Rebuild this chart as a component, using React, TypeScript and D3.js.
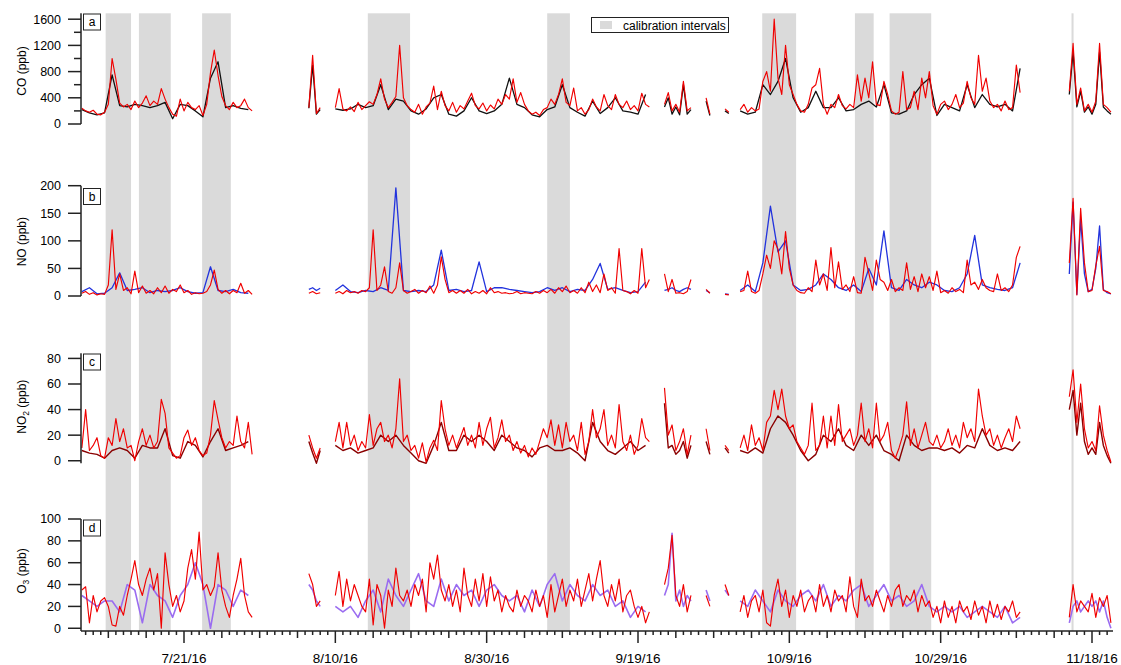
import React from 'react';
import * as d3 from 'd3';

// [start slot, slot step, values]; one slot = 12 h from Jul 7 12:00 UTC
type Seg = [number, number, number[]];

const T0 = Date.UTC(2016, 6, 7, 12);
const SLOT = 12 * 3600 * 1000;

const tickDates = ['2016-07-21', '2016-08-10', '2016-08-30', '2016-09-19', '2016-10-09', '2016-10-29', '2016-11-18'];

const calibration: [string, string][] = [
  ['2016-07-10T15:30Z', '2016-07-14T00:00Z'],
  ['2016-07-15T01:00Z', '2016-07-19T06:00Z'],
  ['2016-07-23T09:30Z', '2016-07-27T04:30Z'],
  ['2016-08-14T07:00Z', '2016-08-19T21:00Z'],
  ['2016-09-07T00:00Z', '2016-09-10T00:00Z'],
  ['2016-10-05T10:00Z', '2016-10-09T21:30Z'],
  ['2016-10-17T16:00Z', '2016-10-20T03:30Z'],
  ['2016-10-22T06:00Z', '2016-10-27T18:00Z'],
  ['2016-11-15T07:00Z', '2016-11-15T13:30Z'],
];

const coRed: Seg[] = [
  [0, 1, [240,200,180,210,150,140,180,300,1000,680,320,260,300,220,350,250,320,430,280,350,300,540,380,250,150,120,380,200,330,250,220,280,130,300,780,1130,740,420,280,220,330,250,280,380,250,200]],
  [60, 1, [250,1050,160,250]],
  [67, 1, [250,540,230,200,260,190,330,220,280,340,300,450,690,380,250,330,420,1200,400,280,220,180,300,150,260,320,580,220,500,280,200,330,180,280,230,350,470,280,230,320,200,290,230,380,300,450,380,690,330,480,300,200,150,180,130,220,250,380,300,450,690,330,280,550,200,250,150,220,380,260,200,450,280,220,450,300,250,350,220,280,200,470,300,260]],
  [154, 1, [300,480,200,300,180,650,200,250]],
  [165, 1, [400,150]],
  [170, 1, [230,180]],
  [174, 1, [220,300,180,250,200,230,650,800,500,1600,700,450,1200,600,450,300,200,180,300,550,600,850,300,150,300,250,450,280,230,300,250,750,350,700,400,950,300,280,650,450,200,150,180,800,220,250,500,220,700,400,800,280,150,300,350,220,300,450,250,320,650,400,300,1050,500,700,350,250,300,200,350,220,250,900,480]],
  [261, 1, [500,1230,300,550,200,300,180,350,1230,300,250,180]],
];
const coBlack: Seg[] = [
  [0, 2, [220,170,140,170,750,280,260,300,280,250,280,330,80,300,280,200,110,700,950,250,280,240,220]],
  [60, 1, [240,900,150,220]],
  [67, 2, [230,210,230,300,250,280,600,220,380,350,200,150,230,400,450,150,120,200,400,200,160,200,300,700,300,250,140,110,220,260,600,250,180,120,350,160,250,400,200,180,150,450]],
  [154, 1, [260,400,150,260,140,600,150,220]],
  [165, 1, [350,130]],
  [170, 1, [200,160]],
  [174, 2, [200,150,180,600,450,650,1000,400,180,250,500,250,250,400,200,220,300,350,260,600,170,150,200,450,600,700,130,300,250,200,600,250,450,300,260,300,200,850]],
  [261, 1, [450,1100,260,500,180,260,150,300,1100,260,200,150]],
];

const noRed: Seg[] = [
  [0, 1, [5,8,3,6,2,4,3,20,120,12,40,10,15,4,45,6,18,5,10,4,15,6,18,5,12,8,20,6,10,3,6,4,5,8,20,47,12,5,10,4,10,6,23,5,10,3]],
  [60, 1, [5,8,4,6]],
  [67, 1, [5,8,4,10,6,8,5,10,8,15,120,10,20,53,8,5,15,60,10,5,8,12,5,10,6,18,5,20,71,30,6,10,5,10,5,12,4,8,5,10,4,15,6,8,5,6,4,5,8,4,6,5,4,8,5,10,6,12,5,15,8,18,6,10,5,15,6,25,8,20,6,40,10,15,5,86,10,8,4,10,5,86,15,30]],
  [154, 1, [40,8,30,5,6,4,8,30]],
  [165, 1, [12,5]],
  [170, 1, [3,2]],
  [174, 1, [8,10,45,8,5,10,40,74,50,100,85,40,117,50,20,10,6,5,15,8,65,20,40,10,88,15,62,12,20,8,35,6,5,70,42,10,65,30,25,10,30,8,15,10,60,12,35,8,40,15,35,10,45,6,10,5,15,8,12,6,65,20,25,12,30,15,10,8,40,10,15,8,20,70,90]],
  [261, 1, [60,177,2,159,60,8,10,55,90,10,8,4]],
];
const noBlue: Seg[] = [
  [0, 2, [8,15,4,5,15,42,10,12,15,6,10,8,10,15,8,5,6,53,10,8,12,6,5]],
  [60, 1, [12,15,10,14]],
  [67, 2, [10,20,8,6,10,8,15,10,196,10,8,10,8,20,83,10,12,8,10,62,8,15,15,12,10,8,6,8,15,10,15,8,12,10,30,59,12,15,10,6,8,25]],
  [154, 1, [10,12,15,10,8,12,15,12]],
  [165, 1, [10,6]],
  [170, 1, [4,3]],
  [174, 2, [10,20,8,60,163,80,100,20,10,12,20,40,30,15,10,20,8,50,20,118,15,10,30,20,15,25,20,10,8,15,40,110,20,15,12,10,15,60]],
  [261, 1, [40,170,3,140,40,8,12,50,127,12,6,4]],
];

const no2Red: Seg[] = [
  [0, 1, [10,40,8,12,18,4,2,18,12,33,15,25,10,12,0,15,25,12,20,10,15,48,37,10,6,2,4,18,24,12,18,8,4,6,20,47,32,18,10,15,12,35,15,10,30,5]],
  [60, 1, [20,10,2,10]],
  [67, 1, [15,30,10,30,12,20,8,15,10,36,12,25,30,15,20,10,25,64,15,20,8,12,2,14,-1,10,16,8,47,25,12,20,10,18,26,12,20,10,30,12,25,34,10,18,32,15,20,8,15,6,12,3,10,5,15,25,18,32,12,28,10,30,15,20,8,30,5,15,40,18,25,40,12,20,10,44,15,8,20,5,12,33,18,15]],
  [154, 1, [57,20,28,8,15,25,5,20]],
  [165, 1, [25,8]],
  [170, 1, [12,8]],
  [174, 1, [10,20,8,28,12,18,8,30,35,55,40,56,35,25,28,15,10,5,12,45,8,12,35,10,35,12,44,15,20,25,12,20,45,15,25,10,45,15,20,30,8,2,10,20,46,12,25,10,20,30,15,12,20,10,15,25,12,20,10,30,18,25,15,56,35,20,25,12,20,10,18,25,15,35,25]],
  [261, 1, [50,71,30,60,25,10,15,8,43,20,8,-1]],
];
const no2Dark: Seg[] = [
  [0, 2, [8,6,5,2,8,10,8,2,12,10,10,25,4,2,15,12,3,15,25,8,10,12,15]],
  [60, 1, [15,6,-2,8]],
  [67, 2, [12,8,10,6,8,10,20,15,20,12,6,0,-2,12,30,8,8,20,15,20,15,8,20,15,10,8,3,10,12,8,8,10,6,0,30,15,8,5,10,15,8,12]],
  [154, 1, [45,10,12,5,8,15,2,12]],
  [165, 1, [15,5]],
  [170, 1, [10,6]],
  [174, 2, [8,6,10,6,25,35,30,20,8,0,5,20,15,25,12,8,20,12,20,8,5,0,20,12,8,10,10,8,10,6,12,10,25,12,8,10,8,15]],
  [261, 1, [40,55,20,45,15,5,10,5,30,12,4,-2]],
];

const o3Red: Seg[] = [
  [0, 1, [35,38,5,30,15,25,28,20,3,2,20,12,30,45,62,40,30,45,55,35,50,0,69,40,20,30,15,25,55,72,45,88,35,40,30,38,69,35,20,10,30,45,64,30,15,10]],
  [60, 1, [50,40,20,25]],
  [67, 1, [30,52,20,45,25,40,30,20,15,45,3,40,30,0,35,20,55,30,25,35,20,40,30,45,15,60,45,67,35,25,40,20,35,15,55,30,20,45,25,50,20,47,25,35,15,30,20,15,35,20,30,25,15,35,20,30,10,40,15,30,45,20,35,25,45,20,35,50,25,45,62,30,20,40,25,45,15,30,35,20,10,20,5,15]],
  [154, 1, [40,55,85,30,20,40,15,30]],
  [165, 1, [30,20]],
  [170, 1, [40,30]],
  [174, 1, [15,30,10,25,30,15,35,5,2,30,45,20,35,10,30,20,35,15,25,30,15,40,20,30,15,35,25,30,15,47,20,10,45,25,30,20,35,25,15,30,20,35,40,20,30,25,35,15,30,20,25,10,20,5,25,10,20,5,25,15,20,8,25,12,20,5,25,10,22,8,20,15,25,10,15]],
  [261, 1, [10,40,15,25,20,15,32,10,28,20,30,5]],
];
const o3Purple: Seg[] = [
  [0, 2, [30,25,20,25,25,15,40,35,5,40,30,25,10,30,40,60,40,0,40,35,20,35,30]],
  [60, 1, [40,35,25,20]],
  [67, 2, [20,15,20,10,25,35,15,45,30,20,35,50,25,20,45,25,40,30,35,20,35,40,30,25,30,15,35,20,40,50,25,40,30,25,40,30,35,20,25,10,20,15]],
  [154, 1, [30,40,87,25,35,20,30,25]],
  [165, 1, [35,25]],
  [170, 1, [35,30]],
  [174, 2, [25,20,35,25,15,35,25,20,30,35,25,40,20,30,25,35,40,20,30,40,25,30,20,25,40,20,15,20,15,20,10,15,20,15,10,20,5,10]],
  [261, 1, [5,20,25,15,20,25,20,25,15,25,10,0]],
];

const FONT = 'Liberation Sans, Arial, Helvetica, sans-serif';
const RED = '#f00000';

const x = d3.scaleUtc()
  .domain([new Date('2016-07-21T00:00Z'), new Date('2016-11-18T00:00Z')])
  .range([184, 1092]);

const AXIS_X = 81;
const PLOT_TOP = 13.3;
const BASE_Y = 631;

const panels = [
  {
    key: 'a', title: ['CO', '', ' (ppb)'], titleY: 71, boxY: 14,
    y: d3.scaleLinear().domain([0, 1690]).range([124, 13.3]),
    ticks: [0, 400, 800, 1200, 1600], minor: [200, 600, 1000, 1400],
    series: [{ data: coBlack, color: '#111', w: 1.3 }, { data: coRed, color: RED, w: 1.15 }],
  },
  {
    key: 'b', title: ['NO', '', ' (ppb)'], titleY: 241.7, boxY: 188.5,
    y: d3.scaleLinear().domain([0, 200]).range([296, 185.7]),
    ticks: [0, 50, 100, 150, 200], minor: [],
    series: [{ data: noBlue, color: '#2233dd', w: 1.3 }, { data: noRed, color: RED, w: 1.15 }],
  },
  {
    key: 'c', title: ['NO', '2', ' (ppb)'], titleY: 406.7, boxY: 354,
    y: d3.scaleLinear().domain([-2, 84]).range([463.3, 353.3]),
    ticks: [0, 20, 40, 60, 80], minor: [],
    series: [{ data: no2Dark, color: '#8a0000', w: 1.4 }, { data: no2Red, color: RED, w: 1.15 }],
  },
  {
    key: 'd', title: ['O', '3', ' (ppb)'], titleY: 571, boxY: 520,
    y: d3.scaleLinear().domain([-2.5, 100]).range([631, 519]),
    ticks: [0, 20, 40, 60, 80, 100], minor: [],
    series: [{ data: o3Purple, color: '#9a6cf0', w: 1.6 }, { data: o3Red, color: RED, w: 1.15 }],
  },
];

const slotTime = (s: number) => new Date(T0 + s * SLOT);

const segPath = (seg: Seg, y: d3.ScaleLinear<number, number>) => {
  const [start, step, vals] = seg;
  const pts: [number, number][] = vals.map((v, j) => [x(slotTime(start + j * step)), y(v)]);
  return d3.line()(pts) || '';
};

const App: React.FC = () => {
  const fmt = d3.utcFormat('%-m/%-d/%y');
  const ref21 = new Date('2016-07-21T00:00Z').getTime();
  const days = d3.utcDay.range(new Date('2016-07-08T00:00Z'), new Date('2016-11-21T00:00Z'));

  return (
    <svg width={1121} height={665} style={{ position: 'absolute', left: 0, top: 0, background: '#fff' }}
      fontFamily={FONT}>
      {/* calibration bands across all panels */}
      {calibration.map(([a, b], i) => {
        const x0 = x(new Date(a)), x1 = x(new Date(b));
        return <rect key={i} x={x0} y={PLOT_TOP} width={Math.max(2, x1 - x0)} height={BASE_Y - PLOT_TOP} fill="#dadada" />;
      })}

      {panels.map(p => (
        <g key={p.key}>
          {p.series.map((s, si) => (
            <g key={si}>
              {s.data.map((seg, k) => (
                <path key={k} d={segPath(seg, p.y)} fill="none" stroke={s.color} strokeWidth={s.w} strokeLinejoin="round" />
              ))}
            </g>
          ))}
          {/* y axis */}
          <line x1={AXIS_X} x2={AXIS_X} y1={p.y.range()[1]} y2={p.y.range()[0]} stroke="#222" strokeWidth={1.5} />
          {p.ticks.map(t => (
            <g key={t}>
              <line x1={AXIS_X - 13} x2={AXIS_X} y1={p.y(t)} y2={p.y(t)} stroke="#222" strokeWidth={1.5} />
              <text x={61} y={p.y(t)} dy="0.35em" textAnchor="end" fontSize={12.5}>{t}</text>
            </g>
          ))}
          {p.minor.map(t => (
            <line key={t} x1={AXIS_X - 7} x2={AXIS_X} y1={p.y(t)} y2={p.y(t)} stroke="#222" strokeWidth={1.5} />
          ))}
          <text transform={`translate(26,${p.titleY}) rotate(-90)`} textAnchor="middle" fontSize={12}>
            {p.title[0]}
            {p.title[1] && <tspan fontSize={8.5} dy={3}>{p.title[1]}</tspan>}
            {p.title[1] ? <tspan dy={-3}>{p.title[2]}</tspan> : p.title[2]}
          </text>
          <rect x={83.5} y={p.boxY} width={17} height={16} fill="#fff" stroke="#222" strokeWidth={1} />
          <text x={92} y={p.boxY + 8} dy="0.35em" textAnchor="middle" fontSize={12}>{p.key}</text>
        </g>
      ))}

      {/* time axis */}
      <line x1={AXIS_X} x2={1113} y1={BASE_Y} y2={BASE_Y} stroke="#222" strokeWidth={1.5} />
      {days.map(d => {
        const n = Math.round((d.getTime() - ref21) / 86400000);
        const len = n % 20 === 0 ? 12 : n % 5 === 0 ? 7 : 4;
        const xx = x(d);
        return <line key={n} x1={xx} x2={xx} y1={BASE_Y} y2={BASE_Y + len} stroke="#222" strokeWidth={1.5} />;
      })}
      {tickDates.map(s => {
        const d = new Date(s + 'T00:00Z');
        return <text key={s} x={x(d)} y={663} textAnchor="middle" fontSize={13.5}>{fmt(d)}</text>;
      })}

      {/* legend */}
      <rect x={591.5} y={17.5} width={137} height={15} fill="#fff" stroke="#222" strokeWidth={1} />
      <rect x={600} y={21} width={12} height={8} fill="#dadada" />
      <text x={623} y={29.5} fontSize={12}>calibration intervals</text>
    </svg>
  );
};

export default App;
